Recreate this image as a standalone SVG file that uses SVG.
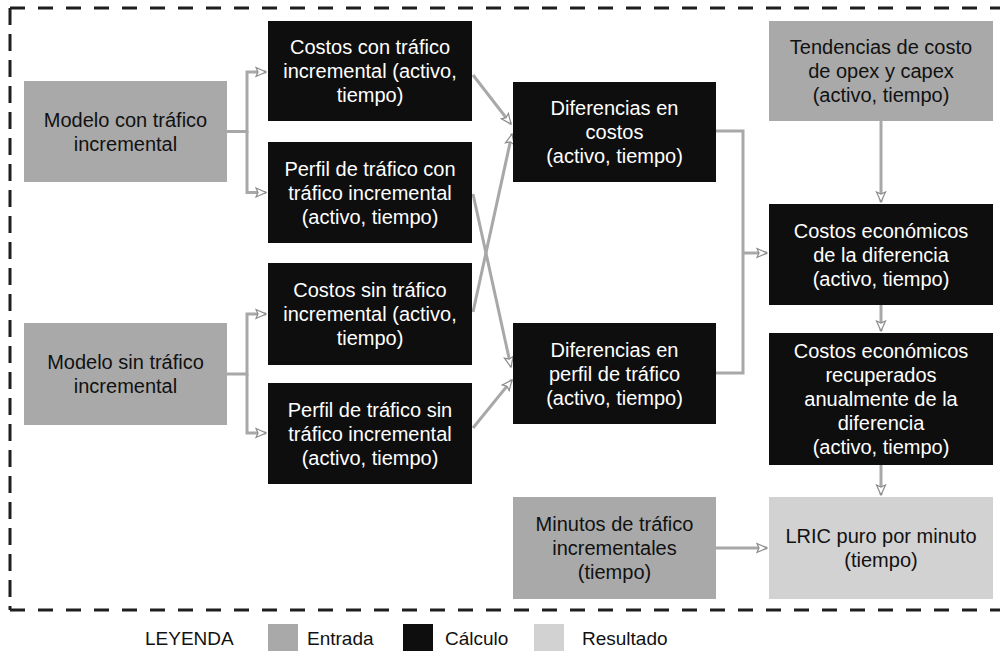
<svg xmlns="http://www.w3.org/2000/svg" width="1000" height="660" viewBox="0 0 1000 660">
<defs>
<style>
.in{fill:#a9a9a9}
.calc{fill:#0e0e0e}
.res{fill:#d2d2d2}
text{font-family:"Liberation Sans",Arial,sans-serif;font-size:20px;text-anchor:middle}
.w{fill:#ffffff}
.k{fill:#111111}
.con{fill:none;stroke:#a8a8a8;stroke-width:3;stroke-linejoin:miter}
.border{fill:none;stroke:#1e1e1e;stroke-width:3}
.leg{font-size:19px;text-anchor:start;fill:#111111}
</style>
<marker id="arr" viewBox="0 0 12 12" refX="11" refY="6" markerWidth="12" markerHeight="12" markerUnits="userSpaceOnUse" orient="auto">
<path d="M1,1.5 L11,6 L1,10.5 L3,6 z" fill="#ffffff" stroke="#8c8c8c" stroke-width="1.2"/>
</marker>
</defs>
<rect width="1000" height="660" fill="#ffffff"/>

<g id="border">
<path class="border" d="M10,8 H1000" stroke-dasharray="15 13"/>
<path class="border" d="M10,610 H1000" stroke-dasharray="15 13"/>
<path class="border" d="M10,8 V610" stroke-dasharray="17 9"/>
</g>

<g id="connectors">
<path class="con" d="M227,131.5 H247 V72 H266" marker-end="url(#arr)"/>
<path class="con" d="M247,131.5 V192.5 H266" marker-end="url(#arr)"/>
<path class="con" d="M227,374 H247 V314 H266" marker-end="url(#arr)"/>
<path class="con" d="M247,374 V433 H266" marker-end="url(#arr)"/>
<path class="con" d="M473,75 L511,124" marker-end="url(#arr)"/>
<path class="con" d="M473,312 L512,134" marker-end="url(#arr)"/>
<path class="con" d="M473,194 L511,367" marker-end="url(#arr)"/>
<path class="con" d="M473,428 L512,380" marker-end="url(#arr)"/>
<path class="con" d="M716,131 H743 V373 H716"/>
<path class="con" d="M743,253 H767" marker-end="url(#arr)"/>
<path class="con" d="M881,121 V202" marker-end="url(#arr)"/>
<path class="con" d="M881,305 V331" marker-end="url(#arr)"/>
<path class="con" d="M881,465 V495" marker-end="url(#arr)"/>
<path class="con" d="M716,548 H767" marker-end="url(#arr)"/>
</g>

<g id="modelo-con">
<rect class="in" x="24" y="81" width="203" height="101"/>
<text class="k" x="125.5" y="126.5">Modelo con tráfico</text>
<text class="k" x="125.5" y="150.5">incremental</text>
</g>

<g id="modelo-sin">
<rect class="in" x="24" y="323" width="203" height="102"/>
<text class="k" x="125.5" y="369">Modelo sin tráfico</text>
<text class="k" x="125.5" y="393">incremental</text>
</g>

<g id="costos-con">
<rect class="calc" x="268" y="21" width="204" height="100"/>
<text class="w" x="370" y="54">Costos con tráfico</text>
<text class="w" x="370" y="78">incremental (activo,</text>
<text class="w" x="370" y="102">tiempo)</text>
</g>

<g id="perfil-con">
<rect class="calc" x="268" y="142" width="204" height="101"/>
<text class="w" x="370" y="175.5">Perfil de tráfico con</text>
<text class="w" x="370" y="199.5">tráfico incremental</text>
<text class="w" x="370" y="223.5">(activo, tiempo)</text>
</g>

<g id="costos-sin">
<rect class="calc" x="268" y="263" width="204" height="102"/>
<text class="w" x="370" y="297">Costos sin tráfico</text>
<text class="w" x="370" y="321">incremental (activo,</text>
<text class="w" x="370" y="345">tiempo)</text>
</g>

<g id="perfil-sin">
<rect class="calc" x="268" y="383" width="204" height="101"/>
<text class="w" x="370" y="416.5">Perfil de tráfico sin</text>
<text class="w" x="370" y="440.5">tráfico incremental</text>
<text class="w" x="370" y="464.5">(activo, tiempo)</text>
</g>

<g id="dif-costos">
<rect class="calc" x="513" y="82" width="203" height="100"/>
<text class="w" x="614.5" y="115">Diferencias en</text>
<text class="w" x="614.5" y="139">costos</text>
<text class="w" x="614.5" y="163">(activo, tiempo)</text>
</g>

<g id="dif-perfil">
<rect class="calc" x="513" y="323" width="203" height="101"/>
<text class="w" x="614.5" y="356.5">Diferencias en</text>
<text class="w" x="614.5" y="380.5">perfil de tráfico</text>
<text class="w" x="614.5" y="404.5">(activo, tiempo)</text>
</g>

<g id="tendencias">
<rect class="in" x="769" y="21" width="224" height="100"/>
<text class="k" x="881" y="54">Tendencias de costo</text>
<text class="k" x="881" y="78">de opex y capex</text>
<text class="k" x="881" y="102">(activo, tiempo)</text>
</g>

<g id="costos-economicos">
<rect class="calc" x="769" y="204" width="224" height="101"/>
<text class="w" x="881" y="237.5">Costos económicos</text>
<text class="w" x="881" y="261.5">de la diferencia</text>
<text class="w" x="881" y="285.5">(activo, tiempo)</text>
</g>

<g id="costos-recuperados">
<rect class="calc" x="769" y="333" width="224" height="132"/>
<text class="w" x="881" y="358">Costos económicos</text>
<text class="w" x="881" y="382">recuperados</text>
<text class="w" x="881" y="406">anualmente de la</text>
<text class="w" x="881" y="430">diferencia</text>
<text class="w" x="881" y="454">(activo, tiempo)</text>
</g>

<g id="minutos">
<rect class="in" x="513" y="497" width="203" height="102"/>
<text class="k" x="614.5" y="531">Minutos de tráfico</text>
<text class="k" x="614.5" y="555">incrementales</text>
<text class="k" x="614.5" y="579">(tiempo)</text>
</g>

<g id="lric">
<rect class="res" x="769" y="497" width="224" height="102"/>
<text class="k" x="881" y="543">LRIC puro por minuto</text>
<text class="k" x="881" y="567">(tiempo)</text>
</g>

<g id="legend">
<text class="leg" x="145" y="645">LEYENDA</text>
<rect class="in" x="268" y="624" width="30" height="27"/>
<text class="leg" x="307" y="645">Entrada</text>
<rect class="calc" x="403" y="624" width="30" height="27"/>
<text class="leg" x="445" y="645">Cálculo</text>
<rect class="res" x="534" y="624" width="30" height="27"/>
<text class="leg" x="582" y="645">Resultado</text>
</g>
</svg>
